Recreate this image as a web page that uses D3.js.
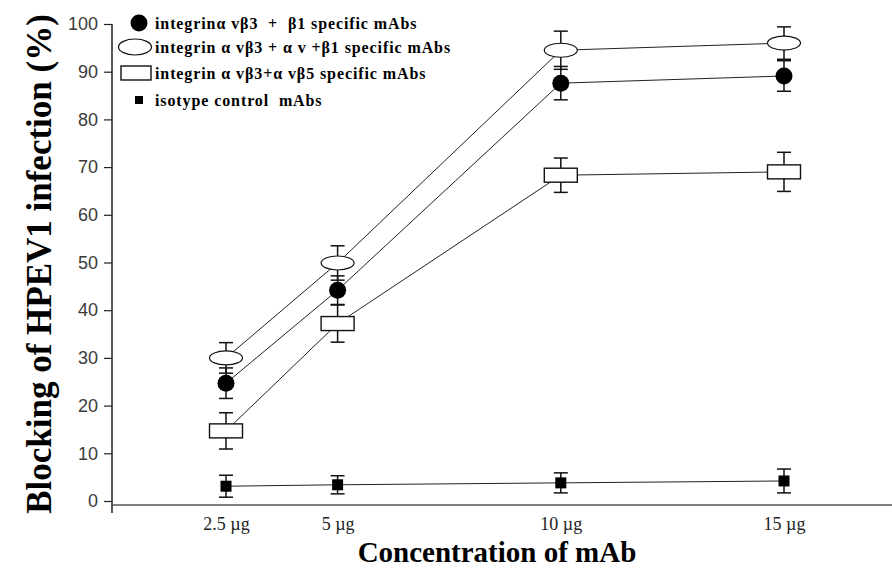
<!DOCTYPE html>
<html>
<head>
<meta charset="utf-8">
<script src="https://cdn.jsdelivr.net/npm/d3@7"></script>
<style>
  body { margin: 0; background: #fff; }
  svg { display: block; }
</style>
</head>
<body>
<div class="chart"></div>
<script>
// concentrations of mAb (x) and labels
const concentrations = [2.5, 5, 10, 15];
const xLabels = ["2.5 \u00b5g", "5 \u00b5g", "10 \u00b5g", "15 \u00b5g"];
const yTicks = [0, 10, 20, 30, 40, 50, 60, 70, 80, 90, 100];

// blocking (%) per series, with error (+/-)
const b3b1Vals = [24.7, 44.2, 87.6, 89.1];
const b3b1Err = [3.2, 3, 3.5, 3.2];
const b3avb1Vals = [30, 49.9, 94.5, 96];
const b3avb1Err = [3.2, 3.6, 4, 3.4];
const b3b5Vals = [14.7, 37.2, 68.3, 69];
const b3b5Err = [3.8, 3.9, 3.6, 4.1];
const isoVals = [3.1, 3.4, 3.8, 4.2];
const isoErr = [2.3, 1.9, 2.1, 2.5];

const legendNames = [
  "integrin\u03b1 v\u03b23  +  \u03b21 specific mAbs",
  "integrin \u03b1 v\u03b23 + \u03b1 v +\u03b21 specific mAbs",
  "integrin \u03b1 v\u03b23+\u03b1 v\u03b25 specific mAbs",
  "isotype control  mAbs"
];

const W = 892, H = 569;
const svg = d3.select(".chart").append("svg")
  .attr("width", W)
  .attr("height", H);

const x = d3.scaleLinear().domain([2.5, 15]).range([226, 784]);
const y = d3.scaleLinear().domain([0, 100]).range([501, 24]);
const axisX = 112;

const serif = "'Liberation Serif', 'Times New Roman', serif";
const sans = "'Liberation Sans', Arial, sans-serif";

// y axis
const yAxis = svg.append("g")
  .attr("transform", "translate(" + axisX + ",0)")
  .call(d3.axisLeft(y).tickValues(yTicks).tickSize(8).tickSizeOuter(0).tickPadding(6));
yAxis.select(".domain").remove();
yAxis.selectAll(".tick line").attr("stroke", "#222").attr("stroke-width", 1.2);
yAxis.selectAll(".tick text")
  .style("font-family", sans).style("font-size", "18px").attr("fill", "#3a3a3a");

svg.append("line")
  .attr("x1", axisX).attr("x2", axisX)
  .attr("y1", y(100)).attr("y2", y(0) + 12)
  .attr("stroke", "#222").attr("stroke-width", 1.5);
svg.append("line")
  .attr("x1", axisX).attr("x2", W)
  .attr("y1", y(0) + 4).attr("y2", y(0) + 4)
  .attr("stroke", "#555").attr("stroke-width", 1.5);

// x axis labels
const xAxis = svg.append("g")
  .attr("transform", "translate(0," + (y(0) + 12) + ")")
  .call(d3.axisBottom(x).tickValues(concentrations).tickSize(0).tickPadding(4)
    .tickFormat((d, i) => xLabels[i]));
xAxis.select(".domain").remove();
xAxis.selectAll(".tick text")
  .style("font-family", serif).style("font-size", "18px").attr("fill", "#222");

// titles
svg.append("text")
  .attr("x", 497).attr("y", 562)
  .attr("text-anchor", "middle")
  .style("font-family", serif).style("font-weight", "bold").style("font-size", "29px")
  .text("Concentration of mAb");

svg.append("text")
  .attr("transform", "translate(51,264)rotate(-90)")
  .attr("text-anchor", "middle")
  .style("font-family", serif).style("font-weight", "bold").style("font-size", "35px")
  .text("Blocking of HPEV1 infection (%)");

const series = [
  { vals: b3b1Vals, err: b3b1Err, shape: "circle" },
  { vals: b3avb1Vals, err: b3avb1Err, shape: "ellipse" },
  { vals: b3b5Vals, err: b3b5Err, shape: "rect" },
  { vals: isoVals, err: isoErr, shape: "square" }
];

const line = d3.line()
  .x(d => x(d[0]))
  .y(d => y(d[1]));

series.forEach(s => {
  const pts = concentrations.map((c, i) => [c, s.vals[i], s.err[i]]);

  svg.append("path")
    .datum(pts)
    .attr("d", line)
    .attr("fill", "none")
    .attr("stroke", "#222")
    .attr("stroke-width", 1);

  const eb = svg.append("g").selectAll("g")
    .data(pts)
    .enter()
    .append("g");
  eb.append("line")
    .attr("x1", d => x(d[0])).attr("x2", d => x(d[0]))
    .attr("y1", d => y(d[1] + d[2])).attr("y2", d => y(d[1] - d[2]))
    .attr("stroke", "#111").attr("stroke-width", 1.5);
  eb.append("line")
    .attr("x1", d => x(d[0]) - 7).attr("x2", d => x(d[0]) + 7)
    .attr("y1", d => y(d[1] + d[2])).attr("y2", d => y(d[1] + d[2]))
    .attr("stroke", "#111").attr("stroke-width", 1.5);
  eb.append("line")
    .attr("x1", d => x(d[0]) - 7).attr("x2", d => x(d[0]) + 7)
    .attr("y1", d => y(d[1] - d[2])).attr("y2", d => y(d[1] - d[2]))
    .attr("stroke", "#111").attr("stroke-width", 1.5);

  const m = svg.append("g").selectAll("g")
    .data(pts)
    .enter()
    .append("g")
    .attr("transform", d => "translate(" + x(d[0]) + "," + y(d[1]) + ")");
  drawMarker(m, s.shape, false);
});

function drawMarker(sel, shape, legend) {
  if (shape === "circle") {
    sel.append("circle").attr("r", 8.5).attr("fill", "#000");
  } else if (shape === "ellipse") {
    sel.append("ellipse").attr("rx", 16.5).attr("ry", legend ? 8 : 7)
      .attr("fill", "#fff").attr("stroke", "#111").attr("stroke-width", 1.2);
  } else if (shape === "rect") {
    const w = legend ? 30 : 33, h = 14;
    sel.append("rect").attr("x", -w / 2).attr("y", -h / 2).attr("width", w).attr("height", h)
      .attr("fill", "#fff").attr("stroke", "#111").attr("stroke-width", 1.4);
  } else {
    const s = legend ? 8 : 11;
    sel.append("rect").attr("x", -s / 2).attr("y", -s / 2).attr("width", s).attr("height", s)
      .attr("fill", "#000");
  }
}

// legend
const legendX = [139, 135, 136, 139];
const legendY = [23, 47, 73, 100];
const lg = svg.append("g").selectAll("g")
  .data(series)
  .enter()
  .append("g")
  .attr("transform", (d, i) => "translate(0," + legendY[i] + ")");
lg.each(function (d, i) {
  const g = d3.select(this).append("g").attr("transform", "translate(" + legendX[i] + ",0)");
  drawMarker(g, d.shape, true);
});
lg.append("text")
  .attr("x", 155)
  .attr("dy", "0.35em")
  .style("font-family", serif).style("font-weight", "bold").style("font-size", "16px")
  .style("letter-spacing", "0.9px")
  .style("white-space", "pre")
  .text((d, i) => legendNames[i]);
</script>
</body>
</html>
